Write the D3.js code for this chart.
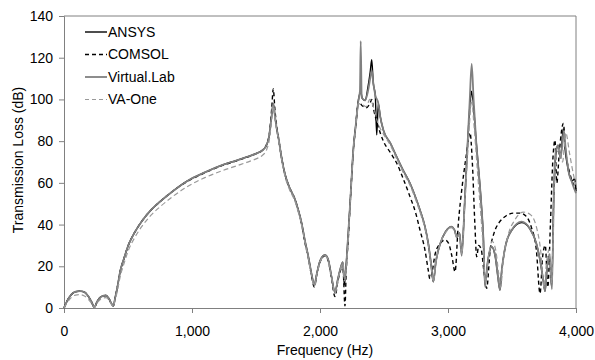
<!DOCTYPE html>
<html>
<head>
<meta charset="utf-8">
<script src="https://cdn.jsdelivr.net/npm/d3@7"></script>
<style>
  body { margin: 0; background: #fff; }
  svg { font-family: "Liberation Sans", Arial, sans-serif; }
</style>
</head>
<body>
<svg id="chart" width="595" height="360"></svg>
<script>
// frequency (Hz) and transmission loss (dB), per solver
const ansysHz = [0, 30, 60, 90, 125, 160, 190, 215, 237, 260, 290, 328, 350, 370, 385, 400, 420, 437, 470, 502, 550, 607, 680, 750, 850, 958, 1100, 1245, 1350, 1427, 1500, 1550, 1580, 1605, 1622, 1635, 1648, 1662, 1677, 1700, 1727, 1760, 1805, 1830, 1857, 1880, 1909, 1935, 1956, 1975, 2000, 2039, 2065, 2090, 2117, 2140, 2160, 2178, 2190, 2200, 2215, 2240, 2260, 2280, 2300, 2318, 2330, 2352, 2375, 2392, 2404, 2416, 2432, 2443, 2456, 2470, 2495, 2550, 2599, 2650, 2703, 2750, 2781, 2820, 2846, 2868, 2885, 2905, 2940, 2980, 3029, 3050, 3070, 3090, 3107, 3130, 3150, 3170, 3183, 3200, 3220, 3237, 3260, 3276, 3289, 3310, 3341, 3370, 3390, 3406, 3420, 3450, 3500, 3575, 3640, 3690, 3719, 3745, 3758, 3775, 3792, 3810, 3825, 3845, 3860, 3880, 3900, 3915, 3940, 3970, 3990, 4000];
const ansysDb = [0, 4, 6.6, 7.8, 8.1, 7.6, 5.6, 3, 0.3, 3.2, 5.4, 6, 4.6, 2.2, 1, 5, 11, 17, 24, 30, 36, 41.5, 47, 51, 56, 60.7, 65, 68.7, 70.8, 72.4, 74, 75.6, 77.8, 83, 92, 98, 92, 86, 81, 72, 64, 58, 52, 47, 40.6, 33, 24.6, 16, 11, 16.5, 22.5, 25.4, 23, 15, 7.5, 14, 19, 22, 11, 17, 30, 55, 75.7, 88, 99.5, 104, 100.5, 99.5, 106, 113, 119, 108, 102, 83, 98, 92, 85.3, 79, 72.5, 66, 59.8, 52.5, 47, 39, 31, 21, 12.6, 22, 31, 36.5, 39, 37.5, 34, 36, 26, 50, 75, 96, 104, 96, 80, 67.7, 50, 34, 11, 22, 29.4, 24.5, 15, 8.6, 18, 30, 37.5, 41, 38, 31, 23, 13, 8, 20, 25, 10, 50, 75, 78, 72, 86, 76, 66, 61, 62, 56];

const comsolHz = [0, 30, 60, 90, 125, 160, 190, 215, 237, 260, 290, 328, 350, 370, 385, 400, 420, 437, 470, 502, 550, 607, 680, 750, 850, 958, 1100, 1245, 1350, 1427, 1500, 1550, 1580, 1605, 1622, 1635, 1648, 1662, 1677, 1700, 1727, 1760, 1805, 1830, 1857, 1880, 1909, 1935, 1956, 1975, 2000, 2039, 2065, 2090, 2117, 2140, 2160, 2178, 2195, 2205, 2220, 2240, 2260, 2280, 2300, 2330, 2360, 2390, 2405, 2420, 2450, 2495, 2550, 2599, 2650, 2703, 2750, 2781, 2820, 2846, 2858, 2875, 2900, 2940, 2977, 3005, 3030, 3055, 3080, 3110, 3140, 3172, 3190, 3210, 3224, 3240, 3260, 3280, 3302, 3330, 3360, 3400, 3450, 3510, 3560, 3610, 3650, 3690, 3719, 3740, 3760, 3780, 3800, 3820, 3836, 3850, 3870, 3901, 3920, 3950, 3975, 4000];
const comsolDb = [0, 4, 6.6, 7.8, 8.1, 7.6, 5.6, 3, 0.3, 3.2, 5.4, 6, 4.6, 2.2, 1, 5, 11, 17, 24, 30, 36, 41.5, 47, 51, 56, 60.5, 64.8, 68.5, 70.6, 72.2, 74, 75.6, 78, 84, 95, 105, 95, 87, 81, 72, 64, 58, 52, 47, 40, 32, 24, 15, 10, 16, 22, 25, 22.5, 14, 5.5, 13, 18, 21, 1, 18, 32, 55, 75, 88, 99, 97, 96, 98, 100, 95, 88, 80, 74.5, 69.5, 62, 53.4, 45, 37.4, 27.8, 18, 14, 17, 26, 31, 32.6, 31, 25, 17.4, 40, 58, 72, 84, 70, 40, 24.6, 30, 28, 18, 9.4, 28, 36, 41, 44, 45.5, 45.5, 44, 39, 28, 7, 25, 30, 10, 40, 72, 80.5, 60, 75, 88.5, 75, 65, 60, 57];

const virtualHz = [0, 30, 60, 90, 125, 160, 190, 215, 237, 260, 290, 328, 350, 370, 385, 400, 420, 437, 470, 502, 550, 607, 680, 750, 850, 958, 1100, 1245, 1350, 1427, 1500, 1550, 1580, 1605, 1622, 1635, 1648, 1662, 1677, 1700, 1727, 1760, 1805, 1830, 1857, 1880, 1909, 1935, 1956, 1975, 2000, 2039, 2065, 2090, 2117, 2140, 2160, 2178, 2190, 2200, 2215, 2240, 2260, 2280, 2300, 2312, 2318, 2326, 2352, 2375, 2392, 2404, 2416, 2432, 2456, 2470, 2495, 2550, 2599, 2650, 2703, 2750, 2781, 2820, 2846, 2868, 2885, 2905, 2940, 2980, 3029, 3050, 3070, 3090, 3107, 3130, 3150, 3170, 3185, 3200, 3220, 3237, 3260, 3276, 3289, 3310, 3341, 3370, 3390, 3406, 3420, 3450, 3500, 3575, 3640, 3690, 3719, 3745, 3758, 3775, 3795, 3812, 3828, 3845, 3860, 3880, 3905, 3920, 3940, 3970, 4000];
const virtualDb = [0, 4, 6.6, 7.8, 8.1, 7.6, 5.6, 3, 0.3, 3.2, 5.4, 6, 4.6, 2.2, 1, 5, 11, 17, 24, 30, 36, 41.5, 47, 51, 56, 60.7, 65, 68.7, 70.8, 72.4, 74, 75.6, 77.8, 83, 92, 98, 92, 86, 81, 72, 64, 58, 52, 47, 40.6, 33, 24.6, 16, 11, 16.5, 22.5, 25.4, 23, 15, 7.5, 14, 19, 22, 14, 17, 30, 55, 75.7, 88, 99.5, 104, 128, 101, 99.5, 104, 110, 114, 108, 102, 98, 92, 85.3, 79, 72.5, 66, 59.8, 52.5, 47, 39, 31, 21, 12.6, 22, 31, 36.5, 39, 37.5, 34, 36, 25, 50, 75, 100, 117, 100, 80, 67.7, 50, 34, 10.2, 22, 29.4, 24.5, 15, 8.6, 18, 30, 37.5, 41.4, 38, 31, 23, 13, 8, 20, 25, 9, 60, 76, 78, 72, 85, 76, 66, 60, 55];

const vaoneHz = [0, 30, 60, 90, 125, 160, 190, 215, 237, 260, 290, 328, 350, 370, 385, 400, 420, 437, 470, 502, 550, 607, 680, 750, 850, 958, 1100, 1245, 1350, 1427, 1500, 1550, 1580, 1605, 1622, 1635, 1648, 1662, 1677, 1700, 1727, 1760, 1805, 1830, 1857, 1880, 1909, 1935, 1956, 1975, 2000, 2039, 2065, 2090, 2117, 2140, 2160, 2178, 2192, 2205, 2220, 2240, 2260, 2280, 2300, 2330, 2360, 2390, 2420, 2450, 2495, 2550, 2599, 2650, 2703, 2750, 2781, 2820, 2846, 2868, 2885, 2905, 2940, 2980, 3025, 3050, 3070, 3090, 3107, 3130, 3150, 3170, 3185, 3200, 3220, 3237, 3260, 3276, 3292, 3315, 3345, 3375, 3395, 3412, 3430, 3470, 3520, 3588, 3640, 3690, 3725, 3750, 3770, 3790, 3810, 3830, 3850, 3870, 3895, 3920, 3950, 3980, 4000];
const vaoneDb = [0, 3, 5.2, 6.2, 6.4, 5.8, 4.2, 2.2, 0.3, 2.5, 4.4, 5, 3.8, 1.8, 0.8, 4, 9, 14.5, 21.5, 27.5, 33.5, 39, 44.5, 48.5, 53.5, 58, 62.5, 66, 68.2, 69.8, 71.5, 73.2, 75.5, 81, 90, 97, 91, 85, 80, 71, 63, 57, 51, 46, 39.5, 32, 23.5, 15, 10.5, 16, 22, 25, 22.5, 14.5, 7, 13.5, 18.5, 21.5, 13, 18, 32, 55, 75, 88, 98, 97.5, 96.5, 100, 96, 89, 83.5, 78, 71.5, 65, 58.8, 51.5, 46, 38, 30, 20, 12.6, 22, 31, 36, 38.5, 37, 33.5, 35, 26, 48, 70, 90, 100, 90, 74, 60, 42, 28, 12, 24, 32, 27, 17, 10, 22, 35, 42, 46, 45, 39, 27, 10, 22, 28, 12, 55, 74, 76, 70, 84, 74, 64, 59, 56];

const xTicks = [0, 1000, 2000, 3000, 4000];
const yTicks = [0, 20, 40, 60, 80, 100, 120, 140];

const series = [
  { name: 'ANSYS', hz: ansysHz, db: ansysDb, color: '#000', width: 1.4, dash: null },
  { name: 'COMSOL', hz: comsolHz, db: comsolDb, color: '#000', width: 1.4, dash: '4,3' },
  { name: 'Virtual.Lab', hz: virtualHz, db: virtualDb, color: '#808080', width: 1.8, dash: null },
  { name: 'VA-One', hz: vaoneHz, db: vaoneDb, color: '#999', width: 1.2, dash: '5,3' }
];

const svg = d3.select('#chart');
const margin = { top: 16, right: 19, bottom: 52, left: 64 };
const width = 595 - margin.left - margin.right;
const height = 360 - margin.top - margin.bottom;
const fontSize = '14px';

const x = d3.scaleLinear().domain([0, 4000]).range([0, width]);
const y = d3.scaleLinear().domain([0, 140]).range([height, 0]);

const g = svg.append('g')
  .attr('transform', 'translate(' + margin.left + ',' + margin.top + ')');

const fmt = d3.format(',');

// axes
const xAxis = g.append('g')
  .attr('transform', 'translate(0,' + height + ')')
  .call(d3.axisBottom(x).tickValues(xTicks).tickFormat(fmt).tickSize(5).tickPadding(13));
const yAxis = g.append('g')
  .call(d3.axisLeft(y).tickValues(yTicks).tickSize(5).tickPadding(6));

[xAxis, yAxis].forEach(a => {
  a.select('.domain').attr('stroke', '#808080');
  a.selectAll('.tick line').attr('stroke', '#808080');
  a.selectAll('.tick text').attr('fill', '#000').style('font-size', fontSize)
    .style('font-family', '"Liberation Sans", Arial, sans-serif');
});

// box top and right
g.append('line').attr('x1', 0).attr('x2', width).attr('y1', 0).attr('y2', 0)
  .attr('stroke', '#808080');
g.append('line').attr('x1', width).attr('x2', width).attr('y1', 0).attr('y2', height)
  .attr('stroke', '#808080');

const line = d3.line()
  .x(d => x(d[0]))
  .y(d => y(d[1]))
  .curve(d3.curveMonotoneX);

series.forEach(s => {
  const pts = s.hz.map((h, i) => [h, s.db[i]]);
  g.append('path')
    .datum(pts)
    .attr('fill', 'none')
    .attr('stroke', s.color)
    .attr('stroke-width', s.width)
    .attr('stroke-dasharray', s.dash)
    .attr('stroke-linejoin', 'round')
    .attr('d', line);
});

// legend
const legend = svg.append('g').attr('transform', 'translate(85,32)');
series.forEach((s, i) => {
  const row = legend.append('g').attr('transform', 'translate(0,' + (i * 22.5) + ')');
  row.append('line')
    .attr('x1', 0).attr('x2', 22)
    .attr('stroke', s.color)
    .attr('stroke-width', s.width)
    .attr('stroke-dasharray', s.dash ? '4,3' : null);
  row.append('text')
    .attr('x', 23).attr('dy', '0.35em')
    .style('font-size', fontSize)
    .text(s.name);
});

// axis titles
svg.append('text')
  .attr('x', 325).attr('y', 355)
  .attr('text-anchor', 'middle')
  .style('font-size', fontSize)
  .text('Frequency (Hz)');
svg.append('text')
  .attr('transform', 'translate(23,160) rotate(-90)')
  .attr('text-anchor', 'middle')
  .style('font-size', fontSize)
  .text('Transmission Loss (dB)');
</script>
</body>
</html>
